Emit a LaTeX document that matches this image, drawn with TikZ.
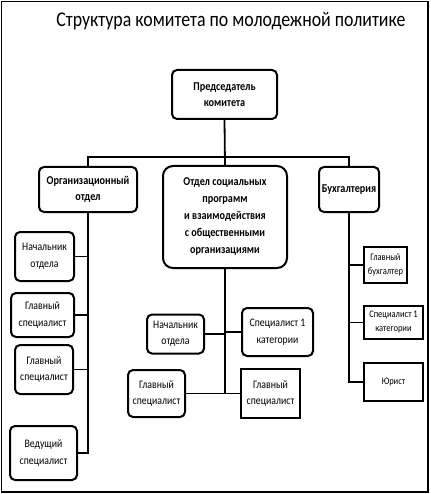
\documentclass[tikz,border=0pt]{standalone}
\usepackage{fontspec}
\setmainfont{Carlito}[FakeStretch=0.85]
\begin{document}
\begin{tikzpicture}[x=1pt,y=-1pt,
  base/.style={draw,line width=2pt,align=center,inner sep=0pt,anchor=center},
  rbox/.style={base,rounded corners=5pt},
  sbox/.style={base},
  head/.style={font=\bfseries\fontsize{12}{16}\selectfont},
  small/.style={font=\fontsize{11.5}{16.5}\selectfont},
  tiny/.style={font=\fontsize{10}{14}\selectfont},
  conn/.style={line width=1.8pt}]
\useasboundingbox (0,0) rectangle (430,494);
\draw[line width=1.3pt] (1.5,1.5) rectangle (428,492);
\node (title) at (231,21) {\fontsize{21}{24}\selectfont Структура комитета по молодежной политике};
\node[rbox,head,minimum width=105pt,minimum height=49pt] (chair) at (224.5,94.5) {Председатель\\комитета};
\node[rbox,head,minimum width=98pt,minimum height=45pt] (org) at (88,189.5) {Организационный\\отдел};
\node[rbox,head,rounded corners=10pt,minimum width=124pt,minimum height=102pt,font=\bfseries\fontsize{12}{17}\selectfont] (mid) at (225,217) {Отдел социальных\\программ\\и взаимодействия\\с общественными\\организациями};
\node[rbox,head,minimum width=60pt,minimum height=45pt] (bukh) at (349,189.5) {Бухгалтерия};
\coordinate (bus) at (225,157);
\draw[conn] (chair.south) -- (mid.north);
\draw[conn] (org.north) |- (bus) -| (bukh.north);
% left column
\node[rbox,small,minimum width=59pt,minimum height=49pt] (l1) at (44.5,256.5) {Начальник\\отдела};
\node[rbox,small,minimum width=63pt,minimum height=44pt] (l2) at (42.5,315) {Главный\\специалист};
\node[rbox,small,minimum width=58pt,minimum height=49pt] (l3) at (44,369.5) {Главный\\специалист};
\node[rbox,small,minimum width=67pt,minimum height=54pt] (l4) at (43.5,453) {Ведущий\\специалист};
\draw[conn] (org.south) -- (org.south |- l4.east) -- (l4.east);
\foreach \n in {l1,l2,l3} \draw[conn] (\n.east) -- (\n.east -| org.south);
% middle column
\node[rbox,small,minimum width=57pt,minimum height=39pt] (m1) at (175.5,334) {Начальник\\отдела};
\node[rbox,small,minimum width=71pt,minimum height=48pt] (m2) at (277.5,332) {Специалист 1\\категории};
\node[rbox,small,minimum width=57pt,minimum height=47pt] (m3) at (156.5,393.5) {Главный\\специалист};
\node[sbox,small,minimum width=59pt,minimum height=49pt] (m4) at (270.5,393.5) {Главный\\специалист};
\draw[conn] (mid.south) -- (mid.south |- m4.west) -- (m4.west);
\draw[conn] (m3.east) -- (m3.east -| mid.south);
\draw[conn] (m1.east) -- (m1.east -| mid.south);
\draw[conn] (m2.west) -- (m2.west -| mid.south);
% right column
\node[sbox,tiny,minimum width=43pt,minimum height=36pt] (r1) at (385.5,265) {Главный\\бухгалтер};
\node[sbox,tiny,minimum width=59pt,minimum height=33pt] (r2) at (393.5,322.5) {Специалист 1\\категории};
\node[sbox,tiny,minimum width=59pt,minimum height=38pt] (r3) at (393.5,382) {Юрист};
\draw[conn] (bukh.south) -- (bukh.south |- r3.west) -- (r3.west);
\foreach \n in {r1,r2} \draw[conn] (\n.west) -- (\n.west -| bukh.south);
\end{tikzpicture}
\end{document}
